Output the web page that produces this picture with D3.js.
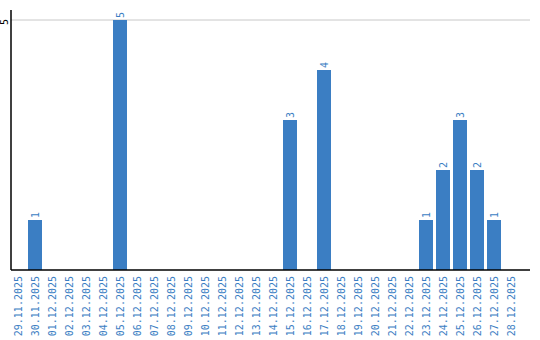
<!DOCTYPE html>
<html>
<head>
<meta charset="utf-8">
<script src="https://cdn.jsdelivr.net/npm/d3@7"></script>
<style>
	body { margin: 0; background: #fff; }
	svg { display: block; }
	text { font-family: "DejaVu Sans Mono", monospace; font-size: 10px; }
</style>
</head>
<body>
<svg id="chart" width="540" height="340"></svg>
<script>
// dates and counts
const dates = ["29.11.2025","30.11.2025","01.12.2025","02.12.2025","03.12.2025","04.12.2025",
	"05.12.2025","06.12.2025","07.12.2025","08.12.2025","09.12.2025","10.12.2025","11.12.2025",
	"12.12.2025","13.12.2025","14.12.2025","15.12.2025","16.12.2025","17.12.2025","18.12.2025",
	"19.12.2025","20.12.2025","21.12.2025","22.12.2025","23.12.2025","24.12.2025","25.12.2025",
	"26.12.2025","27.12.2025","28.12.2025"];
const counts = [0,1,0,0,0,0,5,0,0,0,0,0,0,0,0,0,3,0,4,0,0,0,0,0,1,2,3,2,1,0];
const yTicks = [5];

const blue = "#3b7ec3";
let svg = d3.select("#chart");

let mLeft = 11, mRight = 530, mTop = 10, base = 270;

let x = d3.scaleBand()
	.domain(dates)
	.range([mLeft, 518])
	.paddingInner(3/17)
	.paddingOuter(0);

let y = d3.scaleLinear()
	.domain([0, 5])
	.range([base, 20]);

// grid lines
svg.selectAll("line.grid")
	.data(yTicks)
	.join("line")
	.attr("class", "grid")
	.attr("x1", mLeft).attr("x2", mRight)
	.attr("y1", d => y(d)).attr("y2", d => y(d))
	.attr("stroke", "#c8c8c8")
	.attr("stroke-width", 1);

// bars
let data = dates.map((d, i) => ({date: d, value: counts[i]}));
svg.selectAll("rect.bar")
	.data(data.filter(d => d.value > 0))
	.join("rect")
	.attr("class", "bar")
	.attr("x", d => x(d.date))
	.attr("y", d => y(d.value))
	.attr("width", x.bandwidth())
	.attr("height", d => base - y(d.value))
	.attr("fill", blue);

// value labels
svg.selectAll("text.val")
	.data(data.filter(d => d.value > 0))
	.join("text")
	.attr("class", "val")
	.attr("transform", d => `translate(${x(d.date) + x.bandwidth()/2 + 3.5}, ${y(d.value) - 2}) rotate(-90)`)
	.attr("text-anchor", "start")
	.attr("fill", blue)
	.text(d => d.value);

// y axis
svg.append("line")
	.attr("x1", mLeft).attr("x2", mLeft)
	.attr("y1", mTop).attr("y2", base)
	.attr("stroke", "#000").attr("stroke-width", 1.5);

svg.selectAll("text.ytick")
	.data(yTicks)
	.join("text")
	.attr("class", "ytick")
	.attr("transform", d => `translate(${mLeft - 3}, ${y(d) + 2}) rotate(-90)`)
	.attr("text-anchor", "middle")
	.attr("fill", "#000")
	.text(d => d);

// x axis
svg.append("line")
	.attr("x1", mLeft).attr("x2", mRight)
	.attr("y1", base).attr("y2", base)
	.attr("stroke", "#000").attr("stroke-width", 1.5);

svg.selectAll("text.xlab")
	.data(dates)
	.join("text")
	.attr("class", "xlab")
	.attr("transform", d => `translate(${x(d) + x.bandwidth()/2 + 3.5}, ${base + 6}) rotate(-90)`)
	.attr("text-anchor", "end")
	.attr("fill", blue)
	.text(d => d);
</script>
</body>
</html>
